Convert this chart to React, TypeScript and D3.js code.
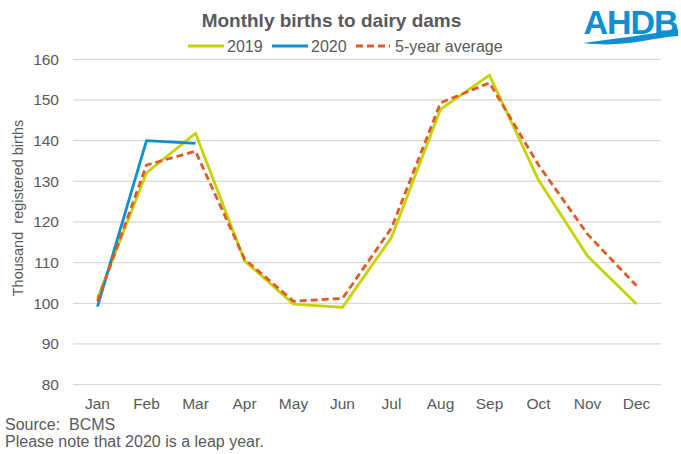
import * as d3 from "d3";

const months = ["Jan", "Feb", "Mar", "Apr", "May", "Jun", "Jul", "Aug", "Sep", "Oct", "Nov", "Dec"];
const births2019 = [101.2, 132.1, 141.8, 110.5, 99.8, 99.0, 116.2, 147.7, 156.1, 130.3, 111.6, 99.8];
const births2020 = [99.2, 140.0, 139.3];
const fiveYearAvg = [100.5, 134.0, 137.4, 110.9, 100.5, 101.2, 118.5, 149.3, 154.2, 134.0, 117.0, 104.3];
const yTicks = [80, 90, 100, 110, 120, 130, 140, 150, 160];

const W = 681;
const H = 454;
const FONT = "'Liberation Sans', Arial, sans-serif";
const GREY = "#595959";
const C2019 = "#c6d300";
const C2020 = "#0a8fd0";
const CAVG = "#e05a26";

export default function App() {
  const x = d3.scaleBand<string>().domain(months).range([73, 661]);
  const y = d3.scaleLinear().domain([80, 160]).range([384.6, 59.3]);
  const cx = (i: number) => (x(months[i]) ?? 0) + x.bandwidth() / 2;
  const line = d3
    .line<number>()
    .x((_, i) => cx(i))
    .y((d) => y(d));

  return (
    <svg
      width={W}
      height={H}
      viewBox={`0 0 ${W} ${H}`}
      style={{ position: "absolute", left: 0, top: 0, fontFamily: FONT }}
    >
      <rect width={W} height={H} fill="#fff" />
      {yTicks.map((t) => (
        <g key={t}>
          <line x1={73} x2={661} y1={y(t)} y2={y(t)} stroke="#d9d9d9" strokeWidth={1.2} />
          <text x={59} y={y(t)} dy="0.35em" textAnchor="end" fontSize={15.5} fill={GREY}>
            {t}
          </text>
        </g>
      ))}
      {months.map((m, i) => (
        <text key={m} x={cx(i)} y={409} textAnchor="middle" fontSize={15.5} fill={GREY}>
          {m}
        </text>
      ))}
      <text
        transform="translate(23,208) rotate(-90)"
        textAnchor="middle"
        fontSize={14.5}
        fill={GREY}
        style={{ whiteSpace: "pre" }}
      >
        {"Thousand  registered births"}
      </text>

      <path d={line(births2019) ?? ""} fill="none" stroke={C2019} strokeWidth={2.8} strokeLinejoin="round" />
      <path d={line(births2020) ?? ""} fill="none" stroke={C2020} strokeWidth={2.8} strokeLinejoin="round" />
      <path
        d={line(fiveYearAvg) ?? ""}
        fill="none"
        stroke={CAVG}
        strokeWidth={2.8}
        strokeDasharray="7 4"
        strokeLinejoin="round"
      />

      <text x={331.5} y={27} textAnchor="middle" fontSize={19} fontWeight="bold" fill={GREY}>
        Monthly births to dairy dams
      </text>

      <g fontSize={16} fill={GREY}>
        <line x1={188} x2={224} y1={46} y2={46} stroke={C2019} strokeWidth={2.8} />
        <text x={227} y={51.5}>2019</text>
        <line x1={272} x2={308} y1={46} y2={46} stroke={C2020} strokeWidth={2.8} />
        <text x={311} y={51.5}>2020</text>
        <line x1={356} x2={390} y1={46} y2={46} stroke={CAVG} strokeWidth={2.8} strokeDasharray="7 4" />
        <text x={395} y={51.5}>5-year average</text>
      </g>

      <text x={5} y={430} fontSize={16} fill={GREY} style={{ whiteSpace: "pre" }}>
        {"Source:  BCMS"}
      </text>
      <text x={5} y={447} fontSize={16} fill={GREY}>Please note that 2020 is a leap year.</text>

      <g fill="#0d8fd1">
        <text x={630.5} y={34} textAnchor="middle" fontSize={34} fontWeight="bold" letterSpacing={-1}>
          AHDB
        </text>
        <path d="M583,43 C605,40 640,36 678,29 L678,36 C650,38 625,48 583,43 Z" />
      </g>
    </svg>
  );
}
